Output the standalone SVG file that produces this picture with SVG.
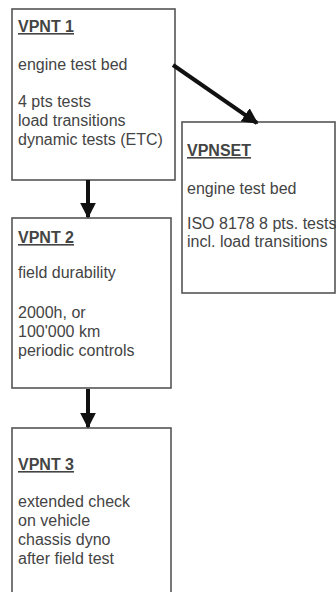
<svg xmlns="http://www.w3.org/2000/svg" width="336" height="592" viewBox="0 0 336 592">
<defs>
<style>
.box{fill:#fff;stroke:#555;stroke-width:1.6}
.t{font-family:"Liberation Sans",Arial,sans-serif;font-size:16px;fill:#444}
.h{font-weight:bold;text-decoration:underline}
.c{stroke:#111;stroke-width:4;fill:none}
</style>
<marker id="ah" viewBox="0 0 10 10" refX="9" refY="5" markerWidth="4" markerHeight="4" orient="auto" markerUnits="strokeWidth">
<path d="M0,0 L10,5 L0,10 Z" fill="#111"/>
</marker>
</defs>
<rect width="336" height="592" fill="#fff"/>
<g id="vpnt1">
<rect class="box" x="12" y="9" width="163" height="171"/>
<text class="t" x="18"><tspan class="h" x="18" y="32">VPNT 1</tspan><tspan x="18" y="70">engine test bed</tspan><tspan x="18" y="107">4 pts tests</tspan><tspan x="18" y="126">load transitions</tspan><tspan x="18" y="145">dynamic tests (ETC)</tspan></text>
</g>
<g id="vpnset">
<rect class="box" x="182" y="122" width="153" height="171"/>
<text class="t"><tspan class="h" x="187" y="156">VPNSET</tspan><tspan x="187" y="194">engine test bed</tspan><tspan x="187" y="229">ISO 8178 8 pts. tests</tspan><tspan x="187" y="247">incl. load transitions</tspan></text>
</g>
<g id="vpnt2">
<rect class="box" x="12" y="218" width="159" height="170"/>
<text class="t"><tspan class="h" x="18" y="243">VPNT 2</tspan><tspan x="18" y="278">field durability</tspan><tspan x="18" y="318">2000h, or</tspan><tspan x="18" y="337">100'000 km</tspan><tspan x="18" y="356">periodic controls</tspan></text>
</g>
<g id="vpnt3">
<rect class="box" x="12" y="428" width="159" height="180"/>
<text class="t"><tspan class="h" x="18" y="470">VPNT 3</tspan><tspan x="18" y="507">extended check</tspan><tspan x="18" y="526">on vehicle</tspan><tspan x="18" y="545">chassis dyno</tspan><tspan x="18" y="564">after field test</tspan></text>
</g>
<g id="connectors">
<line class="c" x1="88" y1="180" x2="88" y2="217" marker-end="url(#ah)"/>
<line class="c" x1="88" y1="389" x2="88" y2="427" marker-end="url(#ah)"/>
<line class="c" x1="173" y1="65" x2="257" y2="123" marker-end="url(#ah)"/>
</g>
</svg>
